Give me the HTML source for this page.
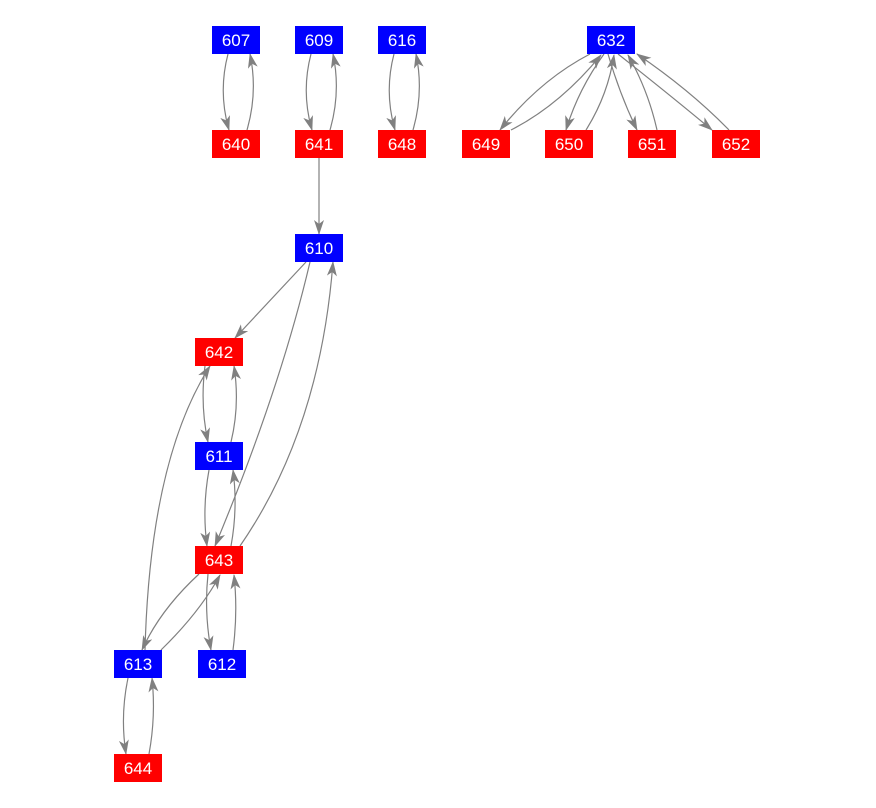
<!DOCTYPE html>
<html><head><style>
body{margin:0;background:#fff;width:876px;height:808px;overflow:hidden}
.n{position:absolute;width:48px;height:28px;color:#fff;font:17px "Liberation Sans",sans-serif;line-height:29px;text-align:center}
.b{background:#0000ff}.r{background:#ff0000}
svg{position:absolute;left:0;top:0}
</style></head><body>
<svg width="876" height="808">
<defs><marker id="a" markerWidth="15" markerHeight="10" refX="14" refY="5" orient="auto" markerUnits="userSpaceOnUse"><path d="M0,0 L15,5 L0,10 L4,5 z" fill="#808080"/></marker></defs>
<g fill="none" stroke="#808080" stroke-width="1.2" marker-end="url(#a)">
<path d="M228,54 Q218,92 229,130"/><path d="M247,130 Q258,92 250,54"/>
<path d="M311,54 Q301,92 312,130"/><path d="M330,130 Q341,92 333,54"/>
<path d="M394,54 Q384,92 395,130"/><path d="M413,130 Q424,92 416,54"/>
<path d="M319,158 L319,234"/>
<path d="M590,54 Q540,80 500,130"/><path d="M511,130 Q560,105 601,55"/>
<path d="M604,54 Q578,90 566,130"/><path d="M586,130 Q608,95 614,55"/>
<path d="M608,54 Q620,95 637,130"/><path d="M657,130 Q648,90 628,55"/>
<path d="M618,54 Q670,95 712,130"/><path d="M729,130 Q690,90 637,54"/>
<path d="M306,262 L235,338"/>
<path d="M310,262 Q280,390 215,546"/><path d="M240,546 Q320,430 333,262"/>
<path d="M205,366 Q200,405 208,442"/><path d="M231,442 Q240,405 234,366"/>
<path d="M209,470 Q202,508 207,546"/><path d="M231,546 Q238,508 233,470"/>
<path d="M145,650 Q150,460 210,366"/>
<path d="M199,574 Q160,610 142,650"/><path d="M161,650 Q200,612 220,575"/>
<path d="M208,574 Q204,612 211,650"/><path d="M233,650 Q238,612 234,575"/>
<path d="M128,678 Q120,716 126,754"/><path d="M149,754 Q156,716 152,678"/>
</g>
</svg>
<div class="n b" style="left:212px;top:26px">607</div>
<div class="n b" style="left:295px;top:26px">609</div>
<div class="n b" style="left:378px;top:26px">616</div>
<div class="n b" style="left:587px;top:26px">632</div>
<div class="n r" style="left:212px;top:130px">640</div>
<div class="n r" style="left:295px;top:130px">641</div>
<div class="n r" style="left:378px;top:130px">648</div>
<div class="n r" style="left:462px;top:130px">649</div>
<div class="n r" style="left:545px;top:130px">650</div>
<div class="n r" style="left:628px;top:130px">651</div>
<div class="n r" style="left:712px;top:130px">652</div>
<div class="n b" style="left:295px;top:234px">610</div>
<div class="n r" style="left:195px;top:338px">642</div>
<div class="n b" style="left:195px;top:442px">611</div>
<div class="n r" style="left:195px;top:546px">643</div>
<div class="n b" style="left:114px;top:650px">613</div>
<div class="n b" style="left:198px;top:650px">612</div>
<div class="n r" style="left:114px;top:754px">644</div>
</body></html>
